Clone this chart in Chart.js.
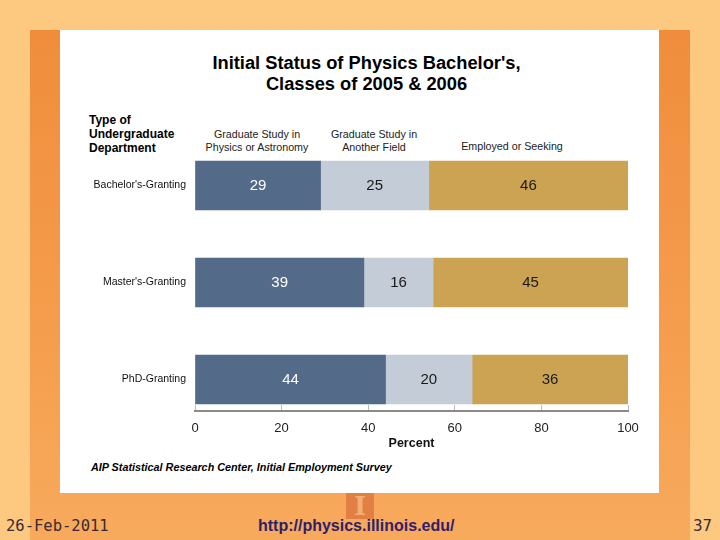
<!DOCTYPE html>
<html>
<head>
<meta charset="utf-8">
<script src="https://cdn.jsdelivr.net/npm/chart.js@4"></script>
<style>
  body { margin: 0; }
  #slide { position: relative; width: 720px; height: 540px; background: #fdc880; overflow: hidden; font-family: "Liberation Sans", Arial, sans-serif; }
  #panel { position: absolute; left: 30px; top: 30px; width: 660px; height: 510px; background: linear-gradient(180deg, #ef8d3c 0%, #f49b4a 50%, #f8aa5c 100%); }
  #paper { position: absolute; left: 60px; top: 30px; width: 599px; height: 463px; background: #fff; }
  #logo { position: absolute; left: 346px; top: 493px; width: 28px; height: 26px; background: #e27f42; color: #f4ad78; font: bold 26px "DejaVu Serif", serif; text-align: center; line-height: 26px; }
  .t { position: absolute; white-space: nowrap; color: #000; }
  canvas { position: absolute; left: 0; top: 0; }
</style>
</head>
<body>
<div id="slide">
  <div id="panel"></div>
  <div id="paper"></div>
  <div id="logo">I</div>

  <div class="t" style="left:0;width:733px;top:52px;text-align:center;font-weight:bold;font-size:18.3px;line-height:21px;">Initial Status of Physics Bachelor's,<br>Classes of 2005 &amp; 2006</div>
  <div class="t" style="left:89px;top:113px;font-weight:bold;font-size:12px;line-height:14px;">Type of<br>Undergraduate<br>Department</div>
  <div class="t" style="left:197px;width:120px;top:128px;text-align:center;font-size:10.7px;line-height:13px;color:#222;">Graduate Study in<br>Physics or Astronomy</div>
  <div class="t" style="left:314px;width:120px;top:128px;text-align:center;font-size:10.7px;line-height:13px;color:#222;">Graduate Study in<br>Another Field</div>
  <div class="t" style="left:452px;width:120px;top:140px;text-align:center;font-size:10.7px;line-height:13px;color:#222;">Employed or Seeking</div>
  <div class="t" style="left:91px;top:461px;font-weight:bold;font-style:italic;font-size:10.8px;">AIP Statistical Research Center, Initial Employment Survey</div>

  <div class="t" style="left:6px;top:517px;font-family:'DejaVu Sans Mono',monospace;font-size:15.5px;color:#3a2a35;">26-Feb-2011</div>
  <div class="t" style="left:258px;top:517px;font-size:16px;font-weight:bold;color:#2e1f6e;">http://physics.illinois.edu/</div>
  <div class="t" style="left:693px;top:517px;font-family:'DejaVu Sans',sans-serif;font-size:15px;color:#3a2a35;">37</div>

  <canvas id="grafica" width="720" height="540"></canvas>
</div>

<script>
const categorias = ["Bachelor's-Granting", "Master's-Granting", "PhD-Granting"];
const fisicaAstronomia = [29, 39, 44];
const otroCampo = [25, 16, 20];
const empleados = [46, 45, 36];
const ticksX = [0, 20, 40, 60, 80, 100];

const puntos = valores => valores.map((v, i) => ({ x: v, y: i }));

const etiquetas = {
    id: 'etiquetas',
    afterDatasetsDraw(chart) {
        const ctx = chart.ctx;
        ctx.save();
        ctx.font = '15px "Liberation Sans", Arial, sans-serif';
        ctx.textAlign = 'center';
        ctx.textBaseline = 'middle';
        chart.data.datasets.forEach((ds, d) => {
            chart.getDatasetMeta(d).data.forEach((bar, i) => {
                ctx.fillStyle = d === 0 ? '#ffffff' : '#1a1a1a';
                ctx.fillText(ds.data[i].x, (bar.x + bar.base) / 2, bar.y);
            });
        });
        ctx.restore();
    }
};

const ctx = document.getElementById('grafica').getContext('2d');
const grafica = new Chart(ctx, {
    type: 'bar',
    data: {
        datasets: [
            { label: 'Graduate Study in Physics or Astronomy', data: puntos(fisicaAstronomia), backgroundColor: '#536a89' },
            { label: 'Graduate Study in Another Field', data: puntos(otroCampo), backgroundColor: '#c3ccd7' },
            { label: 'Employed or Seeking', data: puntos(empleados), backgroundColor: '#cca352' }
        ]
    },
    options: {
        indexAxis: 'y',
        responsive: false,
        animation: false,
        barThickness: 49,
        layout: { padding: { left: 0, right: 92, top: 137, bottom: 89 } },
        scales: {
            x: {
                type: 'linear',
                stacked: true,
                min: 0,
                max: 100,
                afterBuildTicks: s => { s.ticks = ticksX.map(v => ({ value: v })); },
                afterFit: s => { s.height = 40; },
                border: { display: true, color: '#8a8a8a', width: 2 },
                grid: { drawOnChartArea: false, drawTicks: true, tickLength: -6, color: '#bbbbbb' },
                ticks: { color: '#222', font: { size: 13, family: '"Liberation Sans", Arial' }, padding: 16 },
                title: { display: true, text: 'Percent', color: '#111', font: { size: 12.5, weight: 'bold', family: '"Liberation Sans", Arial' }, padding: { top: -7, bottom: 0 } }
            },
            y: {
                type: 'linear',
                stacked: true,
                reverse: true,
                offset: false,
                min: -0.5,
                max: 2.325,
                afterBuildTicks: s => { s.ticks = categorias.map((c, i) => ({ value: i })); },
                afterFit: s => { s.width = 195; },
                border: { display: false },
                grid: { display: false, drawTicks: false, offset: false },
                ticks: {
                    callback: v => categorias[v],
                    color: '#111',
                    font: { size: 10.5, family: '"Liberation Sans", Arial' },
                    padding: 9
                }
            }
        },
        plugins: {
            legend: { display: false },
            tooltip: { enabled: false }
        }
    },
    plugins: [etiquetas]
});
</script>
</body>
</html>
